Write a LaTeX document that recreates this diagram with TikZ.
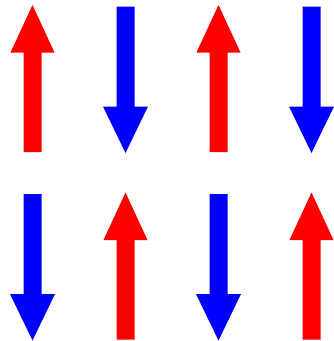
\documentclass[tikz,border=0pt]{standalone}
\begin{document}
\begin{tikzpicture}[x=1pt, y=-1pt]

% Stili
\tikzstyle{spinup} = [fill=red, draw=none]
\tikzstyle{spindown} = [fill=blue, draw=none]

\useasboundingbox (0,0) rectangle (333,341);

% Spin su
\foreach \c/\t in {32.5/5, 218.5/5, 125.5/192.5, 311.5/192.5}
  \fill[spinup] (\c,\t) -- ++(22,47.5) -- ++(-13,0) -- ++(0,99.5)
    -- ++(-18,0) -- ++(0,-99.5) -- ++(-13,0) -- cycle;

% Spin giu
\foreach \c/\t in {125.5/6.5, 311.5/6.5, 32.5/194, 218.5/194}
  \fill[spindown] (\c-9,\t) -- ++(18,0) -- ++(0,100) -- ++(13.5,0)
    -- ++(-22.5,46.5) -- ++(-22.5,-46.5) -- ++(13.5,0) -- cycle;

\end{tikzpicture}
\end{document}
